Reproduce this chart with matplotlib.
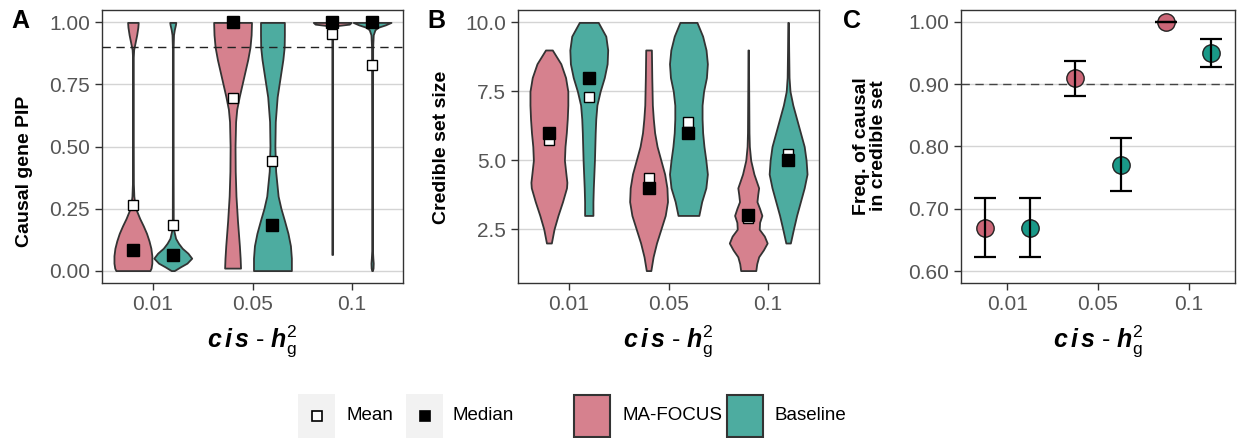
import numpy as np
import matplotlib.pyplot as plt
from matplotlib.patches import Rectangle
from matplotlib.lines import Line2D

plt.rcParams['font.family'] = ['Liberation Sans', 'DejaVu Sans']
plt.rcParams['mathtext.fontset'] = 'custom'
plt.rcParams['mathtext.bf'] = 'Liberation Sans:bold:italic'
plt.rcParams['mathtext.rm'] = 'Liberation Sans'
plt.rcParams['mathtext.it'] = 'Liberation Sans:italic'

# heritability levels and methods
h2_levels = ['0.01', '0.05', '0.1']
methods = ['MA-FOCUS', 'Baseline']

# panel A: causal gene PIP (mean / median per method and level)
pip_mean = {'MA-FOCUS': [0.265, 0.695, 0.952], 'Baseline': [0.182, 0.442, 0.828]}
pip_median = {'MA-FOCUS': [0.082, 1.0, 1.0], 'Baseline': [0.063, 0.185, 1.0]}

# violin outlines: (y, relative half width)
pip_shape = {
    'MA-FOCUS': [
        ([0, 0.01, 0.03, 0.06, 0.09, 0.12, 0.15, 0.18, 0.21, 0.24, 0.27, 0.30, 0.35, 0.5, 0.7, 0.86, 0.89, 0.92, 0.95, 0.98, 1.0],
         [0.9, 0.96, 1.0, 1.0, 0.95, 0.85, 0.72, 0.55, 0.36, 0.2, 0.1, 0.05, 0.025, 0.02, 0.02, 0.02, 0.04, 0.12, 0.2, 0.26, 0.28]),
        ([0.01, 0.05, 0.1, 0.2, 0.3, 0.4, 0.5, 0.6, 0.65, 0.7, 0.75, 0.8, 0.85, 0.9, 0.95, 1.0],
         [0.42, 0.40, 0.36, 0.26, 0.18, 0.14, 0.13, 0.16, 0.22, 0.35, 0.5, 0.65, 0.8, 0.92, 0.98, 1.0]),
        ([0.065, 0.5, 0.985, 0.993, 1.0],
         [0.02, 0.02, 0.02, 0.9, 1.0]),
    ],
    'Baseline': [
        ([0, 0.015, 0.03, 0.05, 0.07, 0.09, 0.11, 0.13, 0.16, 0.2, 0.4, 0.7, 0.9, 0.95, 0.97, 0.99, 1.0],
         [0.08, 0.4, 0.75, 1.0, 0.8, 0.5, 0.3, 0.15, 0.06, 0.025, 0.02, 0.02, 0.02, 0.04, 0.08, 0.14, 0.16]),
        ([0, 0.05, 0.1, 0.15, 0.2, 0.25, 0.3, 0.4, 0.5, 0.6, 0.7, 0.75, 0.8, 0.85, 0.9, 0.95, 1.0],
         [1.0, 1.0, 0.95, 0.82, 0.64, 0.45, 0.3, 0.17, 0.13, 0.15, 0.25, 0.35, 0.45, 0.55, 0.62, 0.63, 0.63]),
        ([0, 0.01, 0.03, 0.05, 0.08, 0.5, 0.9, 0.95, 0.97, 0.98, 0.99, 1.0],
         [0.02, 0.05, 0.06, 0.04, 0.02, 0.02, 0.03, 0.06, 0.15, 0.3, 0.7, 1.0]),
    ],
}

# panel B: credible set size
cs_mean = {'MA-FOCUS': [5.72, 4.36, 2.9], 'Baseline': [7.28, 6.38, 5.22]}
cs_median = {'MA-FOCUS': [6.0, 4.0, 3.0], 'Baseline': [8.0, 6.0, 5.0]}

cs_shape = {
    'MA-FOCUS': [
        ([2.0, 2.5, 3.0, 3.5, 4.0, 4.2, 4.5, 5.0, 5.5, 6.0, 6.5, 7.0, 7.5, 8.0, 8.5, 9.0],
         [0.13, 0.27, 0.48, 0.72, 0.93, 0.95, 0.9, 0.82, 0.85, 0.92, 0.97, 1.0, 1.0, 0.88, 0.63, 0.18]),
        ([1.0, 1.5, 2.0, 2.5, 3.0, 3.5, 4.0, 4.5, 5.0, 5.5, 6.0, 6.5, 7.0, 8.0, 9.0],
         [0.12, 0.24, 0.42, 0.65, 0.88, 1.0, 0.97, 0.85, 0.65, 0.45, 0.32, 0.25, 0.2, 0.17, 0.15]),
        ([1.0, 1.25, 1.5, 1.75, 2.0, 2.25, 2.5, 2.75, 3.0, 3.25, 3.5, 3.75, 4.0, 4.5, 5.0, 5.5, 6.0, 7.0, 8.0, 9.0],
         [0.4, 0.45, 0.55, 0.8, 1.0, 0.85, 0.58, 0.6, 0.72, 0.6, 0.46, 0.5, 0.55, 0.3, 0.13, 0.06, 0.04, 0.03, 0.02, 0.015]),
    ],
    'Baseline': [
        ([3.0, 3.5, 4.0, 4.5, 5.0, 5.5, 6.0, 6.5, 7.0, 7.5, 8.0, 8.5, 9.0, 9.5, 10.0],
         [0.22, 0.22, 0.24, 0.27, 0.3, 0.32, 0.34, 0.37, 0.43, 0.6, 0.82, 0.97, 1.0, 0.9, 0.5]),
        ([3.0, 3.5, 4.0, 4.5, 5.0, 5.5, 6.0, 6.5, 7.0, 7.5, 8.0, 8.5, 9.0, 9.5, 10.0],
         [0.55, 0.7, 0.92, 1.0, 0.92, 0.82, 0.75, 0.72, 0.72, 0.8, 0.95, 1.0, 0.93, 0.75, 0.45]),
        ([2.0, 2.5, 3.0, 3.5, 4.0, 4.5, 5.0, 5.5, 6.0, 6.5, 7.0, 7.5, 8.0, 9.0, 10.0],
         [0.12, 0.28, 0.45, 0.65, 0.85, 1.0, 0.95, 0.85, 0.65, 0.45, 0.25, 0.1, 0.05, 0.03, 0.015]),
    ],
}

# panel C: frequency of causal gene in credible set, with 95% CI
freq = {'MA-FOCUS': [0.67, 0.91, 1.0], 'Baseline': [0.67, 0.77, 0.95]}
freq_lo = {'MA-FOCUS': [0.622, 0.881, 1.0], 'Baseline': [0.622, 0.728, 0.927]}
freq_hi = {'MA-FOCUS': [0.717, 0.937, 1.0], 'Baseline': [0.717, 0.813, 0.972]}

violin_fill = {'MA-FOCUS': '#D6818E', 'Baseline': '#4DACA0'}
point_fill = {'MA-FOCUS': '#CC6677', 'Baseline': '#1A9988'}
edge = '#333333'
offsets = {'MA-FOCUS': -0.2, 'Baseline': 0.2}
half_max = 0.19

W, H = 1238, 438
fig = plt.figure(figsize=(W / 100, H / 100), dpi=100)


def px_axes(left, top, right, bottom):
    return fig.add_axes([left / W, 1 - bottom / H, (right - left) / W, (bottom - top) / H])


def style(ax, ylim, yticks, ylabels):
    ax.set_xlim(0.49, 3.51)
    ax.set_ylim(*ylim)
    ax.set_xticks([1, 2, 3])
    ax.set_xticklabels(h2_levels)
    ax.set_yticks(yticks)
    ax.set_yticklabels(ylabels)
    ax.grid(axis='y', color='#D4D4D4', lw=1.0, zorder=0)
    ax.set_axisbelow(True)
    for s in ax.spines.values():
        s.set_color(edge)
        s.set_linewidth(1.0)
    ax.tick_params(colors=edge, labelcolor='#555555', labelsize=15, length=5, width=1.0)
    ax.set_xlabel(r'$\mathbf{c\,i\,s}$ - $\mathbf{h}_{\mathrm{g}}^{2}$', fontsize=18, labelpad=7)


def draw_violins(ax, shapes, means, medians, msize):
    for m in methods:
        for i, (ys, ws) in enumerate(shapes[m]):
            x0 = i + 1 + offsets[m]
            ys = np.array(ys)
            hw = np.array(ws) * half_max
            ax.fill_betweenx(ys, x0 - hw, x0 + hw, facecolor=violin_fill[m],
                             edgecolor=edge, lw=1.3, zorder=2)
        xs = np.arange(1, 4) + offsets[m]
        ax.plot(xs, means[m], 's', ms=msize - 1, mfc='white', mec='black', mew=1.0, ls='none', zorder=3)
        ax.plot(xs, medians[m], 's', ms=msize, mfc='black', mec='black', ls='none', zorder=4)


# A
axA = px_axes(102, 10, 403, 283)
style(axA, (-0.05, 1.05), [0, 0.25, 0.5, 0.75, 1.0], ['0.00', '0.25', '0.50', '0.75', '1.00'])
draw_violins(axA, pip_shape, pip_mean, pip_median, 8.5)
axA.axhline(0.9, color='#222222', lw=1.0, ls=(0, (6, 4)), zorder=5)

# B
axB = px_axes(518, 10, 819, 283)
style(axB, (0.55, 10.45), [2.5, 5.0, 7.5, 10.0], ['2.5', '5.0', '7.5', '10.0'])
draw_violins(axB, cs_shape, cs_mean, cs_median, 8.5)

# C
axC = px_axes(961, 10, 1235, 283)
style(axC, (0.581, 1.019), [0.6, 0.7, 0.8, 0.9, 1.0], ['0.60', '0.70', '0.80', '0.90', '1.00'])
axC.axhline(0.9, color='#444444', lw=1.0, ls=(0, (6, 4)), zorder=1)
for m in methods:
    xs = np.arange(1, 4) + offsets[m] * 1.25
    y = np.array(freq[m])
    err = [y - np.array(freq_lo[m]), np.array(freq_hi[m]) - y]
    axC.plot(xs, y, 'o', ms=12.5, mfc=point_fill[m], mec='#222222', mew=1.0, ls='none', zorder=3)
    axC.errorbar(xs, y, yerr=err, fmt='none', ecolor='black', elinewidth=1.6,
                 capsize=8, capthick=1.6, zorder=4)

# overlay for panel letters, y titles and legend
ov = fig.add_axes([0, 0, 1, 1])
ov.set_xlim(0, W)
ov.set_ylim(H, 0)
ov.axis('off')

for lab, x in [('A', 11), ('B', 427), ('C', 843)]:
    ov.text(x, 21, lab, fontsize=18, fontweight='bold', ha='left', va='center')

ov.text(25, 171, 'Causal gene PIP', rotation=90, fontsize=14, fontweight='bold', ha='center', va='center')
ov.text(442, 147, 'Credible set size', rotation=90, fontsize=14, fontweight='bold', ha='center', va='center')
ov.text(870, 146, 'Freq. of causal\nin credible set', rotation=90, fontsize=14, fontweight='bold',
        ha='center', va='center', linespacing=0.95)

# legend
ycen = 416
for x0, mfc in [(298, 'white'), (406, 'black')]:
    ov.add_patch(Rectangle((x0, 394), 37, 44, facecolor='#F2F2F2', edgecolor='none'))
    ov.add_line(Line2D([x0 + 18.5], [ycen], marker='s', ms=6.5, mfc=mfc, mec='black', mew=1.2))
ov.text(347, ycen, 'Mean', fontsize=13.5, va='center', ha='left')
ov.text(453, ycen, 'Median', fontsize=13.5, va='center', ha='left')
for x0, m, tx in [(574, 'MA-FOCUS', 622), (727, 'Baseline', 775)]:
    ov.add_patch(Rectangle((x0, 395), 36, 42, facecolor=violin_fill[m], edgecolor=edge, lw=1.5))
    ov.text(tx, ycen, m, fontsize=13.5, va='center', ha='left')

fig.savefig('out.png', dpi=100)
